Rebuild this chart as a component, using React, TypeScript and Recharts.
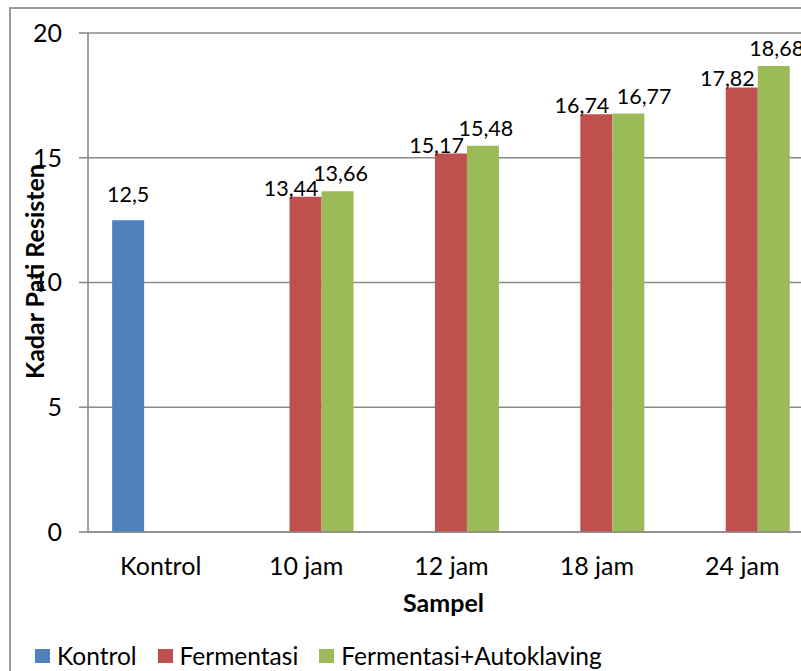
import React from "react";
import {
  BarChart,
  Bar,
  XAxis,
  YAxis,
  CartesianGrid,
  Legend,
  LabelList,
} from "recharts";

// values
const categories = ["Kontrol", "10 jam", "12 jam", "18 jam", "24 jam"];
const kontrol = [12.5, null, null, null, null];
const fermentasi = [null, 13.44, 15.17, 16.74, 17.82];
const autoklaving = [null, 13.66, 15.48, 16.77, 18.68];
const yTicks = [0, 5, 10, 15, 20];

const data = categories.map((name, i) => ({
  name,
  kontrol: kontrol[i],
  fermentasi: fermentasi[i],
  autoklaving: autoklaving[i],
}));

const FONT = "Lato, 'Open Sans', sans-serif";
const GRID = "#8a8a8a";
const LABEL_SIZE = 21.5;

const series = [
  { key: "kontrol", name: "Kontrol", color: "#4F81BD" },
  { key: "fermentasi", name: "Fermentasi", color: "#C0504D" },
  { key: "autoklaving", name: "Fermentasi+Autoklaving", color: "#9BBB59" },
];

const fmt = (v: number) => String(v).replace(".", ",");
const approxWidth = (s: string) => s.length * LABEL_SIZE * 0.48;

function labelText(x: number, y: number, anchor: string, value: number) {
  return (
    <text x={x} y={y} textAnchor={anchor} fontFamily={FONT} fontSize={LABEL_SIZE} fill="#000">
      {fmt(value)}
    </text>
  );
}

function kontrolLabel(props: any) {
  const { x, y, width, value } = props;
  if (value == null) return null;
  return labelText(Number(x) + Number(width) / 2, Number(y) - 18, "middle", value);
}

// red labels sit left, flush against the green bar, like Excel placed them
function fermentasiLabel(props: any) {
  const { x, y, width, value } = props;
  if (value == null) return null;
  return labelText(Number(x) + Number(width) - 3, Number(y) - 1, "end", value);
}

// green labels: centred, pushed right/up if they would run into the red label
function autoklavingLabel(props: any) {
  const { x, y, width, height, value } = props;
  if (value == null) return null;
  const bx = Number(x);
  const by = Number(y);
  const w = Number(width);
  const h = Number(height);
  const idx = autoklaving.indexOf(value);
  const red = fermentasi[idx];
  const txt = fmt(value);
  let cx = bx + w / 2 + 3;
  let baseline = by - 10;
  if (red != null && h > 0) {
    const redTop = by + h - (red * h) / value;
    const redBaseline = redTop - 1;
    const redEnd = bx - 3;
    if (Math.abs(redBaseline - baseline) < 12) {
      baseline = Math.min(baseline, redBaseline - 7);
      cx = Math.max(cx, redEnd + 9 + approxWidth(txt) / 2);
    }
  }
  return labelText(cx, baseline, "middle", value);
}

function YTitle(props: any) {
  const vb = props.viewBox || { x: 0, y: 33, width: 88, height: 499 };
  const cy = vb.y + vb.height / 2 - 11;
  return (
    <text
      x={44}
      y={cy}
      transform={`rotate(-90, 44, ${cy})`}
      textAnchor="middle"
      fontFamily={FONT}
      fontWeight="bold"
      fontSize={25}
      fill="#000"
    >
      Kadar Pati Resisten
    </text>
  );
}

function XTitle(props: any) {
  const vb = props.viewBox || { x: 88, y: 532, width: 727, height: 139 };
  return (
    <text
      x={vb.x + vb.width / 2 - 8}
      y={612}
      textAnchor="middle"
      fontFamily={FONT}
      fontWeight="bold"
      fontSize={25}
      fill="#000"
    >
      Sampel
    </text>
  );
}

function LegendContent() {
  return (
    <div style={{ display: "flex", alignItems: "center", fontFamily: FONT, fontSize: 24.5, whiteSpace: "nowrap" }}>
      {series.map((s) => (
        <div key={s.key} style={{ display: "flex", alignItems: "center", marginRight: 21 }}>
          <span style={{ display: "inline-block", width: 15, height: 14, background: s.color, marginRight: 7 }} />
          <span style={{ color: "#000", lineHeight: "28px" }}>{s.name}</span>
        </div>
      ))}
    </div>
  );
}

export default function App() {
  return (
    <div
      style={{
        position: "fixed",
        left: 0,
        top: 0,
        width: 801,
        height: 671,
        overflow: "hidden",
        background: "#fff",
      }}
    >
      {/* outer chart frame, cut off on the right and bottom like the source */}
      <div
        style={{
          position: "absolute",
          left: 9,
          top: 7,
          width: 900,
          height: 800,
          border: "2px solid #9a9a9a",
        }}
      />
      <div style={{ position: "absolute", left: 0, top: 0 }}>
        <BarChart
          width={840}
          height={671}
          data={data}
          margin={{ top: 33, right: 25, bottom: 0, left: 0 }}
          barCategoryGap="16.6%"
          barGap={0}
        >
          <CartesianGrid vertical={false} stroke={GRID} strokeWidth={1.6} />
          <XAxis
            dataKey="name"
            height={139}
            tickSize={0}
            tickLine={false}
            tickMargin={25}
            axisLine={{ stroke: GRID, strokeWidth: 1.6 }}
            tick={{ fontFamily: FONT, fontSize: 25, fill: "#000" }}
            interval={0}
            label={<XTitle />}
          />
          <YAxis
            width={88}
            domain={[0, 20]}
            ticks={yTicks}
            tickSize={9}
            tickMargin={17}
            tickLine={{ stroke: GRID, strokeWidth: 1.6 }}
            axisLine={{ stroke: GRID, strokeWidth: 1.6 }}
            tick={{ fontFamily: FONT, fontSize: 25, fill: "#000" }}
            label={<YTitle />}
          />
          <Legend
            content={<LegendContent />}
            wrapperStyle={{ left: 35, top: 642, bottom: "auto", width: 760, height: 0 }}
          />
          <Bar dataKey="kontrol" name="Kontrol" fill="#4F81BD" isAnimationActive={false}>
            <LabelList dataKey="kontrol" content={kontrolLabel} />
          </Bar>
          <Bar dataKey="fermentasi" name="Fermentasi" fill="#C0504D" isAnimationActive={false}>
            <LabelList dataKey="fermentasi" content={fermentasiLabel} />
          </Bar>
          <Bar dataKey="autoklaving" name="Fermentasi+Autoklaving" fill="#9BBB59" isAnimationActive={false}>
            <LabelList dataKey="autoklaving" content={autoklavingLabel} />
          </Bar>
        </BarChart>
      </div>
    </div>
  );
}
